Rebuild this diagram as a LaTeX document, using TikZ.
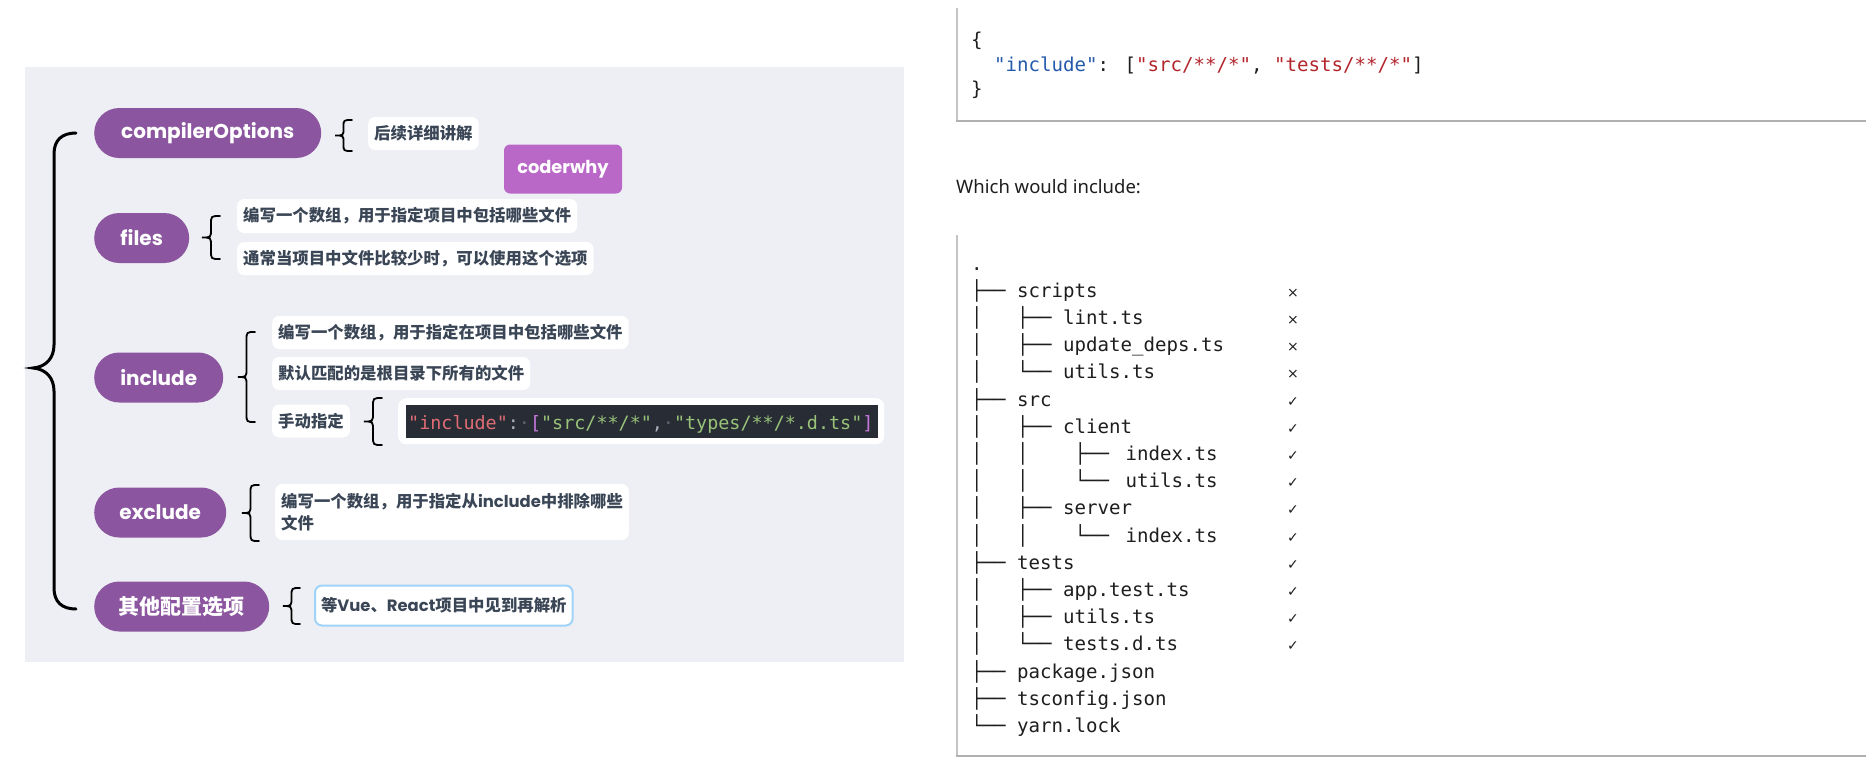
\documentclass[tikz,border=0pt]{standalone}
\usepackage{fontspec}
\setmainfont{Noto Sans}
\newfontfamily\cjk{Noto Sans CJK SC}
\newfontfamily\popf{Poppins}
\newfontfamily\monof{DejaVu Sans Mono}
\newfontfamily\djv{DejaVu Sans}
\definecolor{bgpanel}{HTML}{EEEFF4}
\definecolor{pill}{HTML}{8B569F}
\definecolor{why}{HTML}{BA68C8}
\definecolor{txt}{HTML}{3A4656}
\definecolor{codebg}{HTML}{282C34}
\definecolor{cred}{HTML}{E06C75}
\definecolor{cgreen}{HTML}{98C379}
\definecolor{cpurple}{HTML}{C678DD}
\definecolor{cgray}{HTML}{ABB2BF}
\definecolor{cdim}{HTML}{5C6370}
\definecolor{jblue}{HTML}{2459AC}
\definecolor{jred}{HTML}{B3262C}
\definecolor{rule}{HTML}{B0B0B0}
\definecolor{rulelight}{HTML}{C4C4C4}
\definecolor{skyb}{HTML}{9FD3F7}
\definecolor{treeink}{HTML}{1E1E1E}
\newcommand{\brc}[5]{%
  \draw[bracepen] (#2,#3) .. controls ({(#1+#2)/2},#3) .. ({(#1+#2)/2},{#3+#5})
    -- ({(#1+#2)/2},{(#3+#4)/2-#5}) .. controls ({(#1+#2)/2},{(#3+#4)/2}) .. (#1,{(#3+#4)/2})
    .. controls ({(#1+#2)/2},{(#3+#4)/2}) .. ({(#1+#2)/2},{(#3+#4)/2+#5})
    -- ({(#1+#2)/2},{#4-#5}) .. controls ({(#1+#2)/2},#4) .. (#2,#4);}
\begin{document}
\begin{tikzpicture}[x=1pt,y=-1pt,
  pillnode/.style={fill=pill, rounded corners=25pt, minimum height=50pt, inner sep=0pt, text=white, anchor=west, font=\popf\bfseries\fontsize{20}{24}\selectfont},
  tbox/.style={fill=white, rounded corners=7pt, inner xsep=6pt, inner ysep=0pt, minimum height=33pt, anchor=west, text=txt, font=\cjk\bfseries\fontsize{16.4}{22}\selectfont},
  bracepen/.style={line width=1.8pt, black, line cap=round},
  mono/.style={inner sep=0pt, anchor=base west, text=treeink, font=\monof\fontsize{19.1}{22}\selectfont},
  marksign/.style={inner sep=0pt, anchor=base, text=treeink, font=\djv\fontsize{14}{16}\selectfont},
  rulev/.style={line width=1.4pt, draw=rulelight},
  ruleh/.style={line width=2pt, draw=rule},
]
\useasboundingbox (0,0) rectangle (1873,761);
\fill[white] (0,0) rectangle (1873,761);
% ---------- left mind map ----------
\fill[bgpanel] (25,67) rectangle (904,662);
\node[pillnode, minimum width=227pt] (pco) at (94,133) {compilerOptions};
\node[pillnode, minimum width=95pt] (pfi) at (94,238) {files};
\node[pillnode, minimum width=129pt] (pin) at (94,377.5) {include};
\node[pillnode, minimum width=132pt] (pex) at (94,512.5) {exclude};
\node[pillnode, minimum width=175pt, font=\cjk\bfseries\fontsize{21}{24}\selectfont] (pot) at (94,606.5) {其他配置选项};
\node[fill=why, rounded corners=6pt, minimum width=118pt, minimum height=49pt, inner sep=0pt, text=white, font=\popf\bfseries\fontsize{17.8}{20}\selectfont] (why) at (563,169) {coderwhy};
\node[tbox] (tco) at (368,133.5) {后续详细讲解};
\node[tbox, minimum height=34pt] (tf1) at (237,216) {编写一个数组，用于指定项目中包括哪些文件};
\node[tbox] (tf2) at (237,258.5) {通常当项目中文件比较少时，可以使用这个选项};
\node[tbox] (ti1) at (272,332.5) {编写一个数组，用于指定在项目中包括哪些文件};
\node[tbox] (ti2) at (272,373.5) {默认匹配的是根目录下所有的文件};
\node[tbox] (ti3) at (272,421) {手动指定};
\node[fill=white, rounded corners=8pt, minimum width=486pt, minimum height=46pt, inner sep=0pt, anchor=north west] (cout) at (398,398) {};
\node[fill=codebg, minimum width=472pt, minimum height=33pt, inner sep=0pt, anchor=north west] (cin) at (406,405) {};
\node[inner sep=0pt, anchor=base west, font=\monof\fontsize{18.4}{20}\selectfont, text=cgray] (ccode) at (408,429)
  {{\color{cred}"include"}:{\color{cdim}·}{\color{cpurple}[}{\color{cgreen}"src/**/*"},{\color{cdim}·}{\color{cgreen}"types/**/*.d.ts"}{\color{cpurple}]}};
\node[tbox, align=left, minimum height=56pt] (tex) at (275,512) {编写一个数组，用于指定从{\popf include}中排除哪些\\文件};
\node[tbox, minimum height=40pt, draw=skyb, line width=2pt] (tot) at (314,605.5) {等{\popf Vue}、{\popf React}项目中见到再解析};
% braces
\brc{335}{352}{120}{151}{7}
\brc{202}{220}{216}{259}{8.5}
\brc{238}{255}{332}{422}{8.5}
\brc{364}{382}{398}{445}{9}
\brc{242}{259}{485}{541}{8.5}
\brc{283}{300}{588}{624}{8.5}
\draw[line width=3pt, black, line cap=round] (76,133) .. controls (62,133) and (54,140) .. (54,154) -- (54,345)
  .. controls (54,358) and (46,367) .. (33,368) .. controls (46,369) and (54,378) .. (54,391)
  -- (54,588) .. controls (54,602) and (62,609) .. (76,609);
% ---------- right: docs excerpt ----------
\draw[rulev] (957,8) -- (957,121);
\draw[ruleh] (956,121) -- (1866,121);
\node[mono] (c1) at (971,46) {\{};
\node[mono] (c2) at (971,71) {~~{\color{jblue}"include"}: [{\color{jred}"src/**/*"}, {\color{jred}"tests/**/*"}]};
\node[mono] (c3) at (971,95) {\}};
\node[inner sep=0pt, anchor=base west, text=treeink, font=\fontsize{18.5}{22}\selectfont] (which) at (956,193) {Which would include:};
\draw[rulev] (957,235) -- (957,756);
\draw[ruleh] (956,756) -- (1866,756);
\node[mono] (l0) at (971,270.1) {.};
\node[mono] (l1) at (971,297.3) {├──~scripts};
\node[mono] (l2) at (971,324.5) {│~~~├──~lint.ts};
\node[mono] (l3) at (971,351.7) {│~~~├──~update\_deps.ts};
\node[mono] (l4) at (971,378.9) {│~~~└──~utils.ts};
\node[mono] (l5) at (971,406.1) {├──~src};
\node[mono] (l6) at (971,433.3) {│~~~├──~client};
\node[mono] (l7) at (971,460.5) {│~~~│~~~~├──~\hspace{5pt}index.ts};
\node[mono] (l8) at (971,487.7) {│~~~│~~~~└──~\hspace{5pt}utils.ts};
\node[mono] (l9) at (971,514.9) {│~~~├──~server};
\node[mono] (l10) at (971,542.1) {│~~~│~~~~└──~\hspace{5pt}index.ts};
\node[mono] (l11) at (971,569.3) {├──~tests};
\node[mono] (l12) at (971,596.5) {│~~~├──~app.test.ts};
\node[mono] (l13) at (971,623.7) {│~~~├──~utils.ts};
\node[mono] (l14) at (971,650.9) {│~~~└──~tests.d.ts};
\node[mono] (l15) at (971,678.1) {├──~package.json};
\node[mono] (l16) at (971,705.3) {├──~tsconfig.json};
\node[mono] (l17) at (971,732.5) {└──~yarn.lock};
\foreach \k/\m in {1/×,2/×,3/×,4/×,5/✓,6/✓,7/✓,8/✓,9/✓,10/✓,11/✓,12/✓,13/✓,14/✓}
  \node[marksign] (m\k) at (1293,{270.1+27.2*\k}) {\m};
\end{tikzpicture}
\end{document}
